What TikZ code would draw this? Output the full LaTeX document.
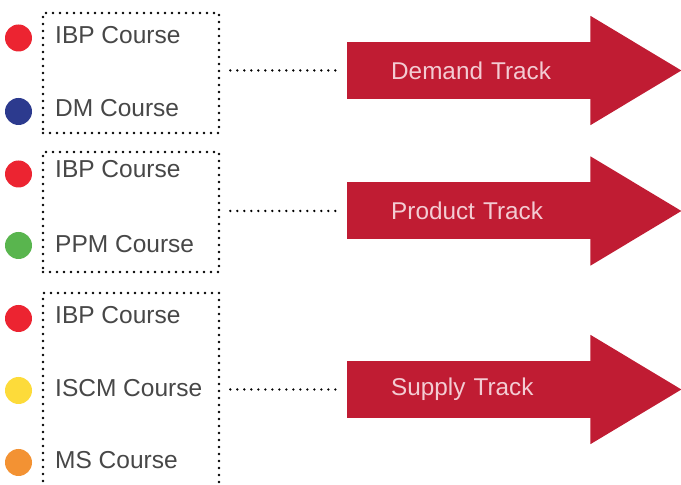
\documentclass[tikz,border=0pt]{standalone}
\usepackage{fontspec}
\setmainfont{Liberation Sans}
\usepackage{xcolor}
\usepackage{tikz}
\usetikzlibrary{calc}
\definecolor{trackred}{HTML}{C01C33}
\definecolor{tracktext}{HTML}{F3CCD3}
\definecolor{coursegray}{HTML}{474747}
\definecolor{ibpred}{HTML}{EC2431}
\definecolor{dmblue}{HTML}{2C3A8E}
\definecolor{ppmgreen}{HTML}{59B54E}
\definecolor{iscmyellow}{HTML}{FDDB3A}
\definecolor{msorange}{HTML}{F39233}
\tikzset{
  dotline/.style={line width=2.6pt,line cap=round,dash pattern=on 0pt off 7pt},
  coursebox/.style={dotline,draw,minimum width=176pt,inner sep=0pt},
  coursedot/.style={circle,inner sep=0pt,minimum size=27pt},
  course/.style={anchor=base west,inner sep=0pt,text=coursegray,font=\fontsize{24.5}{26}\selectfont},
  trackbody/.style={fill=trackred,anchor=west,minimum height=57pt,inner ysep=0pt,
    inner xsep=22pt,text width=200pt,align=left,text=tracktext,
    execute at begin node=\hspace*{22pt},font=\fontsize{24.3}{26}\selectfont},
}
\begin{document}
\begin{tikzpicture}[x=1pt,y=1pt]
  \clip (0,0) rectangle (681,485);
  % course groups
  \node[coursebox,minimum height=120pt] (demandbox) at (131,412) {};
  \node[coursebox,minimum height=120pt] (productbox) at (131,273) {};
  \node[coursebox,minimum height=230pt] (supplybox) at (131,77) {};

  \node[coursedot,fill=ibpred] (dot1) at (18.5,447) {};
  \node[coursedot,fill=dmblue] (dot2) at (18.5,373.5) {};
  \node[coursedot,fill=ibpred] (dot3) at (18.5,311) {};
  \node[coursedot,fill=ppmgreen] (dot4) at (18.5,239.5) {};
  \node[coursedot,fill=ibpred] (dot5) at (18.5,166.5) {};
  \node[coursedot,fill=iscmyellow] (dot6) at (18.5,94.5) {};
  \node[coursedot,fill=msorange] (dot7) at (18.5,22.5) {};

  \node[course] (ibp1) at (55,441) {IBP Course};
  \node[course] (dm) at (55,368) {DM Course};
  \node[course] (ibp2) at (55,307) {IBP Course};
  \node[course] (ppm) at (55,232) {PPM Course};
  \node[course] (ibp3) at (55,161) {IBP Course};
  \node[course] (iscm) at (55,88) {ISCM Course};
  \node[course] (ms) at (55,16) {MS Course};

  % tracks
  \node[trackbody] (demand) at (347,414.5) {Demand Track};
  \node[trackbody] (product) at (347,274) {Product Track};
  \node[trackbody] (supply) at (347,95.5) {Supply Track};
  \foreach \t in {demand,product,supply}
    \fill[trackred] ($(\t.north east)+(-1,26)$) -- ($(\t.east)+(90,0)$)
      -- ($(\t.south east)+(-1,-26)$) -- cycle;

  \draw[dotline,shorten <=10pt,shorten >=11pt] (demandbox.east |- demand) -- (demand.west);
  \draw[dotline,shorten <=10pt,shorten >=11pt] (productbox.east |- product) -- (product.west);
  \draw[dotline,shorten <=10pt,shorten >=11pt] (supplybox.east |- supply) -- (supply.west);
\end{tikzpicture}
\end{document}
